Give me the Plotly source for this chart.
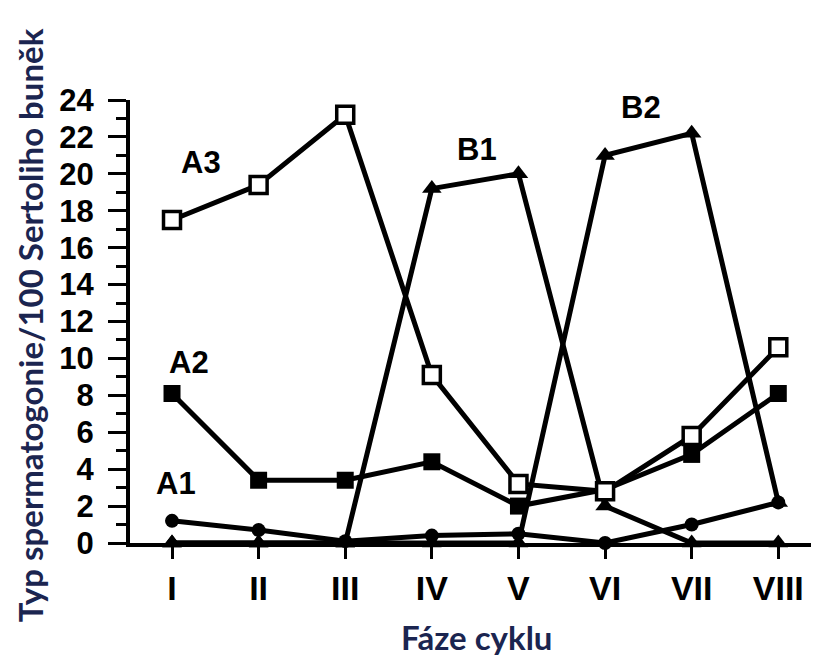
import plotly.graph_objects as go

phases = ["I", "II", "III", "IV", "V", "VI", "VII", "VIII"]
a3 = [17.5, 19.4, 23.2, 9.1, 3.2, 2.8, 5.8, 10.6]
a2 = [8.1, 3.4, 3.4, 4.4, 2.0, 2.9, 4.8, 8.1]
a1 = [1.2, 0.7, 0.1, 0.4, 0.5, 0.0, 1.0, 2.2]
b1 = [0.0, 0.0, 0.0, 19.2, 20.0, 2.0, 0.0, 0.0]
b2 = [0.0, 0.0, 0.0, 0.0, 0.0, 21.0, 22.2, 2.2]

series_labels = ["A3", "A2", "A1", "B1", "B2"]
label_pos = [(0.33, 20.6), (0.2, 9.8), (0.05, 3.2), (3.52, 21.3), (5.42, 23.6)]

fig = go.Figure()
LW = 5

fig.add_trace(go.Scatter(x=phases, y=b1, mode="lines+markers",
                         line=dict(color="black", width=LW),
                         marker=dict(symbol="triangle-up", size=17, color="black"),
                         cliponaxis=False))
fig.add_trace(go.Scatter(x=phases, y=b2, mode="lines+markers",
                         line=dict(color="black", width=LW),
                         marker=dict(symbol="triangle-up", size=17, color="black"),
                         cliponaxis=False))
fig.add_trace(go.Scatter(x=phases, y=a1, mode="lines+markers",
                         line=dict(color="black", width=LW),
                         marker=dict(symbol="circle", size=14, color="black"),
                         cliponaxis=False))
fig.add_trace(go.Scatter(x=phases, y=a2, mode="lines+markers",
                         line=dict(color="black", width=LW),
                         marker=dict(symbol="square", size=17, color="black"),
                         cliponaxis=False))
fig.add_trace(go.Scatter(x=phases, y=a3, mode="lines+markers",
                         line=dict(color="black", width=LW),
                         marker=dict(symbol="square", size=17, color="white",
                                     line=dict(color="black", width=3.5)),
                         cliponaxis=False))

for lab, (lx, ly) in zip(series_labels, label_pos):
    fig.add_annotation(x=lx, y=ly, xref="x", yref="y", text=lab, showarrow=False,
                       font=dict(family="Liberation Sans", size=31, color="black", weight="bold"))

navy = "#1b2550"
fig.add_annotation(x=-0.145, y=0.492, xref="paper", yref="paper",
                   text="Typ spermatogonie/100 Sertoliho buněk", textangle=-90,
                   showarrow=False, xanchor="center", yanchor="middle",
                   font=dict(family="Lato", size=33, color=navy, weight="bold"))
fig.add_annotation(x=0.503, y=-0.212, xref="paper", yref="paper",
                   text="Fáze cyklu", showarrow=False, xanchor="center", yanchor="middle",
                   font=dict(family="Lato", size=33, color=navy, weight="bold"))

fig.update_layout(
    width=819, height=660,
    margin=dict(l=122, r=8, t=92, b=125),
    paper_bgcolor="white", plot_bgcolor="white",
    showlegend=False,
)
fig.update_xaxes(
    type="category", range=[-0.485, 7.47],
    showline=True, linecolor="black", linewidth=4,
    ticks="outside", ticklen=12, tickwidth=3, tickcolor="black",
    tickfont=dict(family="Liberation Sans", size=34, color="black", weight="bold"),
    showgrid=False, zeroline=False,
)
fig.update_yaxes(
    range=[0, 24], dtick=2, tick0=0,
    showline=True, linecolor="black", linewidth=4,
    ticks="outside", ticklen=18, tickwidth=3, tickcolor="black",
    minor=dict(dtick=1, ticks="outside", ticklen=10, tickwidth=3, tickcolor="black", showgrid=False),
    tickfont=dict(family="Liberation Sans", size=31, color="black", weight="bold"),
    ticklabelstandoff=8,
    showgrid=False, zeroline=False,
)

fig.write_html("out.html")
